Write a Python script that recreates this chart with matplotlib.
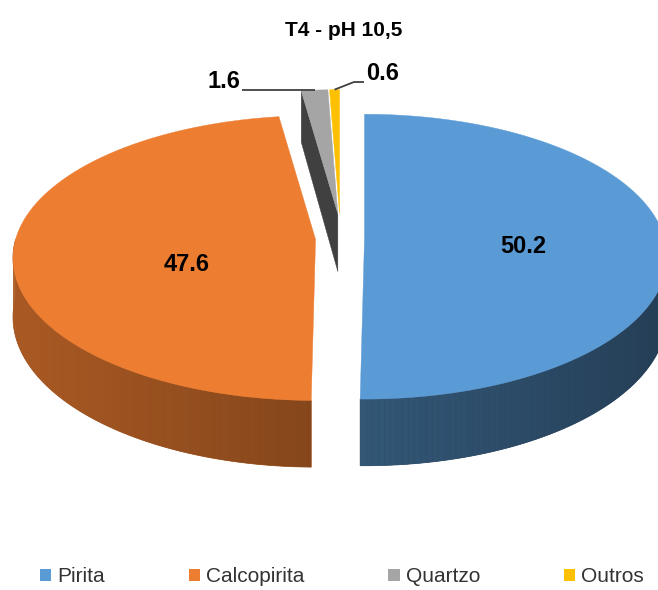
import numpy as np
import matplotlib
matplotlib.use("Agg")
import matplotlib.pyplot as plt
from matplotlib.patches import Polygon, Patch
from matplotlib.colors import to_rgb

title = "T4 - pH 10,5"
categories = ["Pirita", "Calcopirita", "Quartzo", "Outros"]
values = [50.2, 47.6, 1.6, 0.6]
colors = ["#5B9BD5", "#ED7D31", "#A5A5A5", "#FFC000"]

FONT = ["Liberation Sans", "DejaVu Sans"]

# 3d disc layout, figure pixels (y grows downwards)
CX, CY = 340, 238
RX, RY = 300, 140
PERSP = 0.13
THICK = 58
EXPLODE = 24.5


def project(x, v, h=0.0):
    # x: right, v: away from viewer, h: height (0 top face, -1 bottom)
    w = 1 + PERSP * v
    return CX + RX * x / w, CY - (RY * v + THICK * h) / w


def shade(color, f):
    return tuple(min(1.0, c * f) for c in to_rgb(color))


def wall_factor(theta):
    return 0.56 - 0.17 * np.sin(theta)


fig = plt.figure(figsize=(6.58, 5.9), dpi=100)
ax = fig.add_axes([0, 0, 1, 1])
ax.set_xlim(0, 658)
ax.set_ylim(590, 0)
ax.axis("off")

fracs = np.array(values) / sum(values)
ends = np.cumsum(fracs) * 2 * np.pi
starts = ends - fracs * 2 * np.pi
mids = (starts + ends) / 2

# back slices first
order = sorted(range(len(values)), key=lambda i: -np.cos(mids[i]))
for i in order:
    s, e, m = starts[i], ends[i], mids[i]
    ox, oy = EXPLODE * np.sin(m), -EXPLODE * np.cos(m)

    def pt(x, v, h=0.0):
        px, py = project(x, v, h)
        return px + ox, py + oy

    col = colors[i]

    # outer wall, only the front half is visible
    ws, we = max(s, np.pi / 2), min(e, 3 * np.pi / 2)
    if we > ws:
        th = np.linspace(ws, we, max(2, int(np.degrees(we - ws)) + 1))
        # flat base underneath so the gradient strips leave no light seams
        base = ([pt(np.sin(t), np.cos(t)) for t in th]
                + [pt(np.sin(t), np.cos(t), -1) for t in th[::-1]])
        c = shade(col, wall_factor((ws + we) / 2))
        ax.add_patch(Polygon(base, closed=True, fc=c, ec=c, lw=0.5))
        for t1, t2 in zip(th[:-1], th[1:]):
            quad = [pt(np.sin(t1), np.cos(t1)), pt(np.sin(t2), np.cos(t2)),
                    pt(np.sin(t2), np.cos(t2), -1), pt(np.sin(t1), np.cos(t1), -1)]
            c = shade(col, wall_factor((t1 + t2) / 2))
            ax.add_patch(Polygon(quad, closed=True, fc=c, ec="none", lw=0))

    # cut faces along the radii
    for t, visible in ((s, np.sin(s) < -0.05), (e, np.sin(e) > 0.05)):
        if visible:
            face = [pt(0, 0), pt(np.sin(t), np.cos(t)),
                    pt(np.sin(t), np.cos(t), -1), pt(0, 0, -1)]
            c = shade(col, 0.39)
            ax.add_patch(Polygon(face, closed=True, fc=c, ec=c, lw=0.3))

    # top face
    th = np.linspace(s, e, max(2, int(np.degrees(e - s) * 2) + 1))
    top = [pt(0, 0)] + [pt(np.sin(t), np.cos(t)) for t in th]
    ax.add_patch(Polygon(top, closed=True, fc=col, ec=col, lw=0.3))

# value labels inside the two large slices
label_r = [0.53, 0.43]
label_h = [-0.14, -0.36]
for i in range(2):
    m = mids[i]
    lx, ly = project(label_r[i] * np.sin(m), label_r[i] * np.cos(m), label_h[i])
    lx += EXPLODE * np.sin(m)
    ly -= EXPLODE * np.cos(m)
    ax.text(lx, ly, f"{values[i]:.1f}", ha="center", va="center",
            fontsize=17, fontweight="bold", family=FONT, color="black")

# small slices: labels outside with leader lines to the rim
rim = []
for i in (2, 3):
    m = mids[i]
    rx, ry = project(np.sin(m), np.cos(m))
    rim.append((rx + EXPLODE * np.sin(m), ry - EXPLODE * np.cos(m)))

line_kw = dict(color="#404040", lw=1.3, solid_capstyle="butt")
ax.plot([242, rim[0][0]], [rim[0][1], rim[0][1]], **line_kw)
ax.text(240, 82, f"{values[2]:.1f}", ha="right", va="center",
        fontsize=17, fontweight="bold", family=FONT, color="black")
ax.plot([364, 354, rim[1][0]], [82, 82, rim[1][1]], **line_kw)
ax.text(366, 74, f"{values[3]:.1f}", ha="left", va="center",
        fontsize=17, fontweight="bold", family=FONT, color="black")

fig.text(344 / 658, 1 - 30 / 590, title, ha="center", va="center",
         fontsize=15, fontweight="bold", family=FONT, color="black")

handles = [Patch(facecolor=c, edgecolor="none") for c in colors]
fig.legend(handles, categories, loc="center", ncol=4,
           bbox_to_anchor=(342 / 658, 1 - 577 / 590), frameon=False,
           prop={"family": FONT, "size": 15}, labelcolor="#333333",
           handlelength=0.55, handleheight=0.55, handletextpad=0.3,
           columnspacing=4.0)

fig.savefig("out.png", dpi=100)
